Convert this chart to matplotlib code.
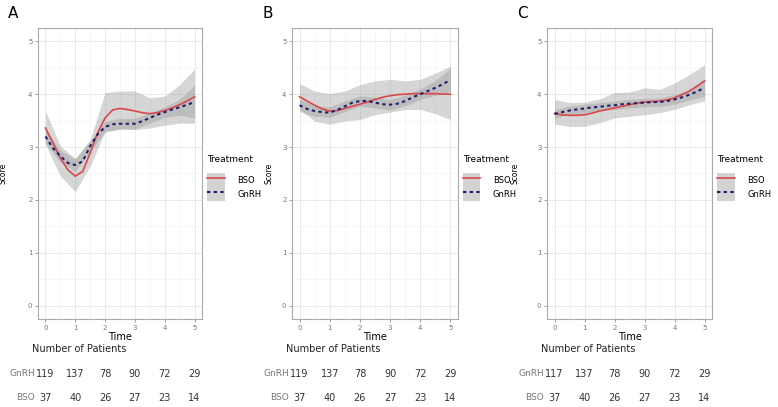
import matplotlib
matplotlib.use("Agg")
import matplotlib.pyplot as plt
import matplotlib.transforms as mtransforms
from matplotlib.patches import Patch
from matplotlib.lines import Line2D

# time grids
t_line = [0, 0.25, 0.5, 0.75, 1, 1.25, 1.5, 1.75, 2, 2.25, 2.5, 2.75, 3,
          3.25, 3.5, 3.75, 4, 4.25, 4.5, 4.75, 5]
t_band = [0, 0.5, 1, 1.5, 2, 2.5, 3, 3.5, 4, 4.5, 5]

# panel A
a_bso = [3.36, 3.08, 2.79, 2.57, 2.45, 2.54, 2.89, 3.27, 3.55, 3.70, 3.73,
         3.71, 3.68, 3.65, 3.63, 3.65, 3.69, 3.74, 3.80, 3.87, 3.95]
a_gnrh = [3.20, 2.98, 2.83, 2.70, 2.66, 2.73, 3.02, 3.24, 3.38, 3.43, 3.44,
          3.44, 3.44, 3.49, 3.55, 3.61, 3.66, 3.71, 3.75, 3.80, 3.85]
a_bso_lo = [3.05, 2.45, 2.16, 2.64, 3.30, 3.34, 3.33, 3.36, 3.41, 3.45, 3.45]
a_bso_hi = [3.68, 3.02, 2.78, 3.14, 4.03, 4.06, 4.06, 3.93, 3.96, 4.18, 4.47]
a_gnrh_lo = [3.07, 2.72, 2.54, 2.92, 3.28, 3.34, 3.34, 3.45, 3.56, 3.60, 3.55]
a_gnrh_hi = [3.33, 2.94, 2.78, 3.12, 3.48, 3.54, 3.54, 3.65, 3.76, 3.90, 4.17]

# panel B
b_bso = [3.95, 3.87, 3.79, 3.72, 3.68, 3.69, 3.73, 3.77, 3.81, 3.85, 3.90,
         3.94, 3.97, 3.99, 4.00, 4.01, 4.01, 4.01, 4.01, 4.00, 4.00]
b_gnrh = [3.79, 3.72, 3.68, 3.66, 3.65, 3.70, 3.77, 3.84, 3.87, 3.87, 3.84,
          3.81, 3.80, 3.82, 3.87, 3.94, 4.00, 4.06, 4.12, 4.19, 4.27]
b_bso_lo = [3.71, 3.49, 3.43, 3.49, 3.52, 3.61, 3.66, 3.71, 3.71, 3.63, 3.52]
b_bso_hi = [4.20, 4.06, 4.01, 4.06, 4.18, 4.25, 4.28, 4.25, 4.28, 4.40, 4.53]
b_gnrh_lo = [3.67, 3.58, 3.56, 3.67, 3.77, 3.74, 3.70, 3.78, 3.90, 3.98, 4.05]
b_gnrh_hi = [3.91, 3.78, 3.76, 3.87, 3.97, 3.94, 3.90, 3.98, 4.10, 4.26, 4.49]

# panel C
c_bso = [3.63, 3.61, 3.60, 3.60, 3.61, 3.64, 3.68, 3.71, 3.74, 3.77, 3.80,
         3.83, 3.85, 3.86, 3.87, 3.89, 3.93, 3.99, 4.06, 4.15, 4.25]
c_gnrh = [3.63, 3.66, 3.69, 3.71, 3.73, 3.75, 3.76, 3.78, 3.79, 3.81, 3.82,
          3.83, 3.84, 3.85, 3.85, 3.87, 3.90, 3.94, 3.99, 4.05, 4.12]
c_bso_lo = [3.43, 3.39, 3.39, 3.46, 3.55, 3.58, 3.61, 3.65, 3.71, 3.80, 3.87]
c_bso_hi = [3.90, 3.84, 3.85, 3.91, 4.03, 4.04, 4.12, 4.09, 4.21, 4.37, 4.56]
c_gnrh_lo = [3.55, 3.61, 3.65, 3.68, 3.71, 3.74, 3.76, 3.77, 3.81, 3.89, 3.96]
c_gnrh_hi = [3.71, 3.77, 3.81, 3.84, 3.87, 3.90, 3.92, 3.93, 3.99, 4.09, 4.28]

# number of patients
n_times = [0, 1, 2, 3, 4, 5]
gnrh_n_a = [119, 137, 78, 90, 72, 29]
gnrh_n_b = [119, 137, 78, 90, 72, 29]
gnrh_n_c = [117, 137, 78, 90, 72, 29]
bso_n = [37, 40, 26, 27, 23, 14]

panels = [
    ("A", 38, 164, 30, a_bso, a_gnrh, a_bso_lo, a_bso_hi, a_gnrh_lo, a_gnrh_hi, gnrh_n_a),
    ("B", 292, 166, 19, b_bso, b_gnrh, b_bso_lo, b_bso_hi, b_gnrh_lo, b_gnrh_hi, gnrh_n_b),
    ("C", 547, 165, 28, c_bso, c_gnrh, c_bso_lo, c_bso_hi, c_gnrh_lo, c_gnrh_hi, gnrh_n_c),
]

W, H = 778, 407
red = "#d9474c"
navy = "#20206e"
band = "#999999"

fig = plt.figure(figsize=(W / 100, H / 100), dpi=100)
fig.patch.set_facecolor("white")

for letter, left, width, ylab_off, bso, gnrh, blo, bhi, glo, ghi, gn in panels:
    ax = fig.add_axes([left / W, 1 - 319 / H, width / W, 291 / H])
    ax.fill_between(t_band, blo, bhi, color=band, alpha=0.4, lw=0)
    ax.fill_between(t_band, glo, ghi, color=band, alpha=0.4, lw=0)
    ax.plot(t_line, bso, color=red, lw=1.2)
    ax.plot(t_line, gnrh, color=navy, lw=1.5, ls=(0, (1.6, 1.6)))

    ax.set_xticks(range(6))
    ax.set_yticks(range(6))
    ax.set_xticks([x + 0.5 for x in range(5)], minor=True)
    ax.set_yticks([y + 0.5 for y in range(5)], minor=True)
    ax.set_xlim(-0.25, 5.25)
    ax.set_ylim(-0.25, 5.25)
    ax.grid(True, which="major", color="#e6e6e6", lw=0.6)
    ax.grid(True, which="minor", color="#f0f0f0", lw=0.4)
    ax.set_axisbelow(True)
    ax.tick_params(which="major", labelsize=5, colors="#777777", length=2,
                   width=0.5, pad=2)
    ax.tick_params(which="minor", length=0)
    for s in ax.spines.values():
        s.set_color("#aaaaaa")
        s.set_linewidth(0.8)

    ax.set_xlabel("Time", fontsize=7, labelpad=1)
    ax.set_ylabel("Score", fontsize=5.5)
    ax.yaxis.set_label_coords(-ylab_off / width, 0.5)

    fig.text((left - 30) / W, 1 - 14 / H, letter, fontsize=11, va="center",
             ha="left")

    handles = [
        (Patch(facecolor="#d2d2d2", edgecolor="none"), Line2D([], [], color=red, lw=1.2)),
        (Patch(facecolor="#d2d2d2", edgecolor="none"),
         Line2D([], [], color=navy, lw=1.5, ls=(0, (1.6, 1.6)))),
    ]
    leg = ax.legend(handles, ["BSO", "GnRH"], title="Treatment",
                    loc="upper left", bbox_to_anchor=(1 + 5 / width, 0.565),
                    frameon=False, fontsize=6, title_fontsize=6.5,
                    handlelength=2.1, handleheight=2.2, labelspacing=0,
                    handletextpad=1.5, borderpad=0, borderaxespad=0,
                    alignment="left")
    leg._legend_box.sep = 7

    # patient counts table
    tr = mtransforms.blended_transform_factory(ax.transData, fig.transFigure)
    fig.text((left - 6) / W, 1 - 349 / H, "Number of Patients", fontsize=7,
             va="center", ha="left", color="#222222")
    ax.text(-0.35, 1 - 374 / H, "GnRH", transform=tr, fontsize=6.5,
            ha="right", va="center", color="#777777")
    ax.text(-0.35, 1 - 398 / H, "BSO", transform=tr, fontsize=6.5,
            ha="right", va="center", color="#777777")
    for t, g, b in zip(n_times, gn, bso_n):
        ax.text(t, 1 - 374 / H, str(g), transform=tr, fontsize=7,
                ha="center", va="center", color="#333333")
        ax.text(t, 1 - 398 / H, str(b), transform=tr, fontsize=7,
                ha="center", va="center", color="#333333")

fig.savefig("out.png", dpi=100)
